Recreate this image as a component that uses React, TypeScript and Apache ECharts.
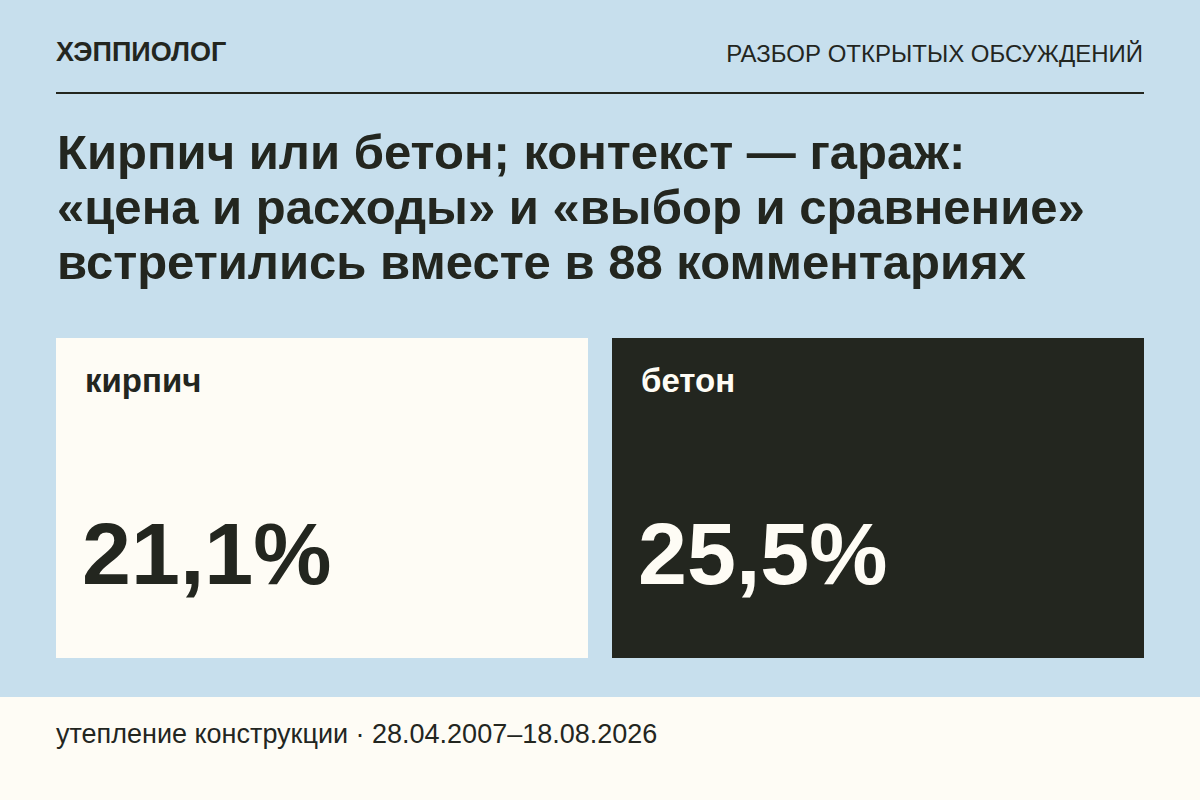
import React, { useRef, useEffect } from 'react';
import * as echarts from 'echarts';

// data
const categories = ['кирпич', 'бетон'];
const shares = [21.1, 25.5];
const brand = 'ХЭППИОЛОГ';
const section = 'РАЗБОР ОТКРЫТЫХ ОБСУЖДЕНИЙ';
const titleLines = [
  'Кирпич или бетон; контекст — гараж:',
  '«цена и расходы» и «выбор и сравнение»',
  'встретились вместе в 88 комментариях',
];
const footnote = 'утепление конструкции · 28.04.2007–18.08.2026';

const BG = '#c7dfed';
const CREAM = '#fefcf5';
const DARK = '#23261f';
const FONT = '"Liberation Sans", Arial, sans-serif';

const cardFills = [CREAM, DARK];
const cardInk = [DARK, CREAM];

const fmt = (v: number) => v.toFixed(1).replace('.', ',') + '%';

const App: React.FC = () => {
  const chartRef = useRef<HTMLDivElement>(null);

  useEffect(() => {
    document.body.style.margin = '0';
    let chart: echarts.ECharts | null = null;
    if (chartRef.current) {
      chart = echarts.init(chartRef.current, null, { renderer: 'svg' });

      const cardW = 532;
      const cardGap = 24;
      const cards: any[] = [];
      categories.forEach((name, i) => {
        const x = 56 + i * (cardW + cardGap);
        cards.push({
          type: 'rect',
          shape: { x, y: 338, width: cardW, height: 320 },
          style: { fill: cardFills[i] },
        });
        cards.push({
          type: 'text',
          x: x + 29,
          y: 380,
          style: {
            text: name,
            fill: cardInk[i],
            font: `bold 33px ${FONT}`,
            verticalAlign: 'middle',
          },
        });
        cards.push({
          type: 'text',
          x: x + 26,
          y: 553,
          style: {
            text: fmt(shares[i]),
            fill: cardInk[i],
            font: `bold 88px ${FONT}`,
            verticalAlign: 'middle',
          },
        });
      });

      const option: echarts.EChartsOption = {
        animation: false,
        backgroundColor: BG,
        graphic: [
          {
            type: 'rect',
            shape: { x: 0, y: 697, width: 1200, height: 103 },
            style: { fill: CREAM },
          },
          {
            type: 'text',
            x: 56,
            y: 52,
            style: { text: brand, fill: DARK, font: `bold 27px ${FONT}`, verticalAlign: 'middle' },
          },
          {
            type: 'text',
            x: 1143,
            y: 53,
            style: {
              text: section,
              fill: DARK,
              font: `24px ${FONT}`,
              align: 'right',
              verticalAlign: 'middle',
            },
          },
          {
            type: 'line',
            shape: { x1: 56, y1: 93, x2: 1144, y2: 93 },
            style: { stroke: DARK, lineWidth: 2 },
          },
          ...titleLines.map((t, i) => ({
            type: 'text',
            x: 57,
            y: 152 + i * 55,
            style: { text: t, fill: DARK, font: `bold 49px ${FONT}`, verticalAlign: 'middle' },
          })),
          ...cards,
          {
            type: 'text',
            x: 56,
            y: 734,
            style: { text: footnote, fill: DARK, font: `27px ${FONT}`, verticalAlign: 'middle' },
          },
        ] as any,
      };
      chart.setOption(option);
    }
    return () => {
      if (chart) chart.dispose();
    };
  }, []);

  return <div ref={chartRef} style={{ width: '1200px', height: '800px' }} />;
};

export default App;
